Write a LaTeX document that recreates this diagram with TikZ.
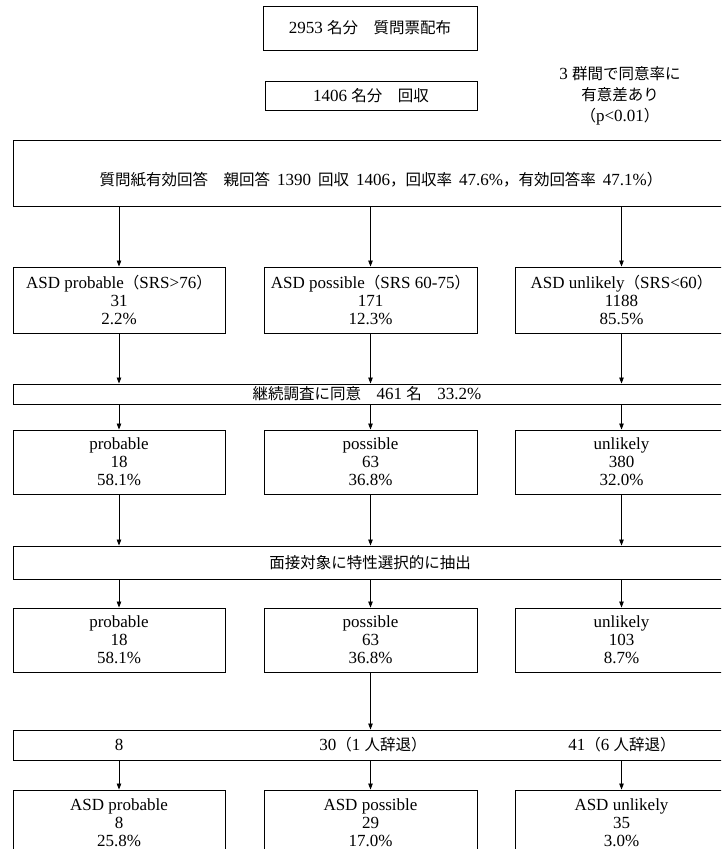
\documentclass[tikz,border=0pt]{standalone}
\usepackage{fontspec}
\setmainfont{Liberation Serif}
\newfontfamily\cjk{Noto Sans CJK JP}
\usetikzlibrary{arrows.meta}
\newcommand{\J}[1]{{\cjk\fontsize{15.5}{18}\selectfont #1}}
\newcommand{\gap}{\hspace{7pt}}
\begin{document}
\begin{tikzpicture}[x=1pt,y=-1pt,
  txt/.style={font=\fontsize{17}{18}\selectfont, align=center},
  box/.style={txt, draw, line width=0.9pt, inner sep=0pt},
  lbl/.style={txt, inner sep=0pt},
  arr/.style={-{Triangle[length=6pt,width=4.5pt]}, line width=0.8pt}]
\useasboundingbox (0,0) rectangle (721,849);
\clip (0,0) rectangle (721,849);

% top boxes
\node[box, minimum width=214pt, minimum height=44pt] (dist) at (370,28) {2953 \J{名分　質問票配布}};
\node[box, minimum width=212pt, minimum height=29pt] (coll) at (371,95.5) {1406 \J{名分　回収}};
\node[lbl, font=\fontsize{17}{21}\selectfont] (note) at (620,96) {3 \J{群間で同意率に}\\ \J{有意差あり}\\ \J{（}p<0.01\J{）}};

% big box
\node[box, minimum width=737pt, minimum height=66pt] (big) at (381.5,173) {};
\node[lbl] (bigt) at (381,180)
  {\J{質問紙有効回答　親回答}\gap 1390\gap\J{回収}\gap 1406\J{，回収率}\gap 47.6\%\J{，有効回答率}\gap 47.1\%\J{）}};

% row 1
\node[box, minimum width=212pt, minimum height=66pt] (r1a) at (119,300) {ASD probable\J{（}SRS>76\J{）}\\31\\2.2\%};
\node[box, minimum width=213pt, minimum height=66pt] (r1b) at (370.5,300) {ASD possible\J{（}SRS 60-75\J{）}\\171\\12.3\%};
\node[box, minimum width=213pt, minimum height=66pt] (r1c) at (621.5,300) {ASD unlikely\J{（}SRS<60\J{）}\\1188\\85.5\%};

% bar A
\node[box, minimum width=737pt, minimum height=20pt] (barA) at (381.5,394) {};
\node[lbl] (barAt) at (367,394) {\J{継続調査に同意}\J{　}461 \J{名}\J{　}33.2\%};

% row 2
\node[box, minimum width=212pt, minimum height=64pt] (r2a) at (119,462) {probable\\18\\58.1\%};
\node[box, minimum width=213pt, minimum height=64pt] (r2b) at (370.5,462) {possible\\63\\36.8\%};
\node[box, minimum width=213pt, minimum height=64pt] (r2c) at (621.5,462) {unlikely\\380\\32.0\%};

% bar B
\node[box, minimum width=737pt, minimum height=33pt] (barB) at (381.5,562.5) {};
\node[lbl] (barBt) at (370,562.5) {\J{面接対象に特性選択的に抽出}};

% row 3
\node[box, minimum width=212pt, minimum height=64pt] (r3a) at (119,640) {probable\\18\\58.1\%};
\node[box, minimum width=213pt, minimum height=64pt] (r3b) at (370.5,640) {possible\\63\\36.8\%};
\node[box, minimum width=213pt, minimum height=64pt] (r3c) at (621.5,640) {unlikely\\103\\8.7\%};

% bar C
\node[box, minimum width=737pt, minimum height=30pt] (barC) at (381.5,745) {};
\node[lbl] (barCa) at (119,745) {8};
\node[lbl] (barCb) at (373,745) {30\J{（}1 \J{人辞退）}};
\node[lbl] (barCc) at (622,745) {41\J{（}6 \J{人辞退）}};

% row 4
\node[box, minimum width=212pt, minimum height=66pt] (r4a) at (119,823) {ASD probable\\8\\25.8\%};
\node[box, minimum width=213pt, minimum height=66pt] (r4b) at (370.5,823) {ASD possible\\29\\17.0\%};
\node[box, minimum width=213pt, minimum height=66pt] (r4c) at (621.5,823) {ASD unlikely\\35\\3.0\%};

% arrows
\foreach \c in {a,b,c}{
  \draw[arr] (big.south -| r1\c.north) -- (r1\c.north);
  \draw[arr] (r1\c.south) -- (barA.north -| r1\c.south);
  \draw[arr] (barA.south -| r2\c.north) -- (r2\c.north);
  \draw[arr] (r2\c.south) -- (barB.north -| r2\c.south);
  \draw[arr] (barB.south -| r3\c.north) -- (r3\c.north);
  \draw[arr] (barC.south -| r4\c.north) -- (r4\c.north);
}
\draw[arr] (r3b.south) -- (barC.north -| r3b.south);
\end{tikzpicture}
\end{document}
